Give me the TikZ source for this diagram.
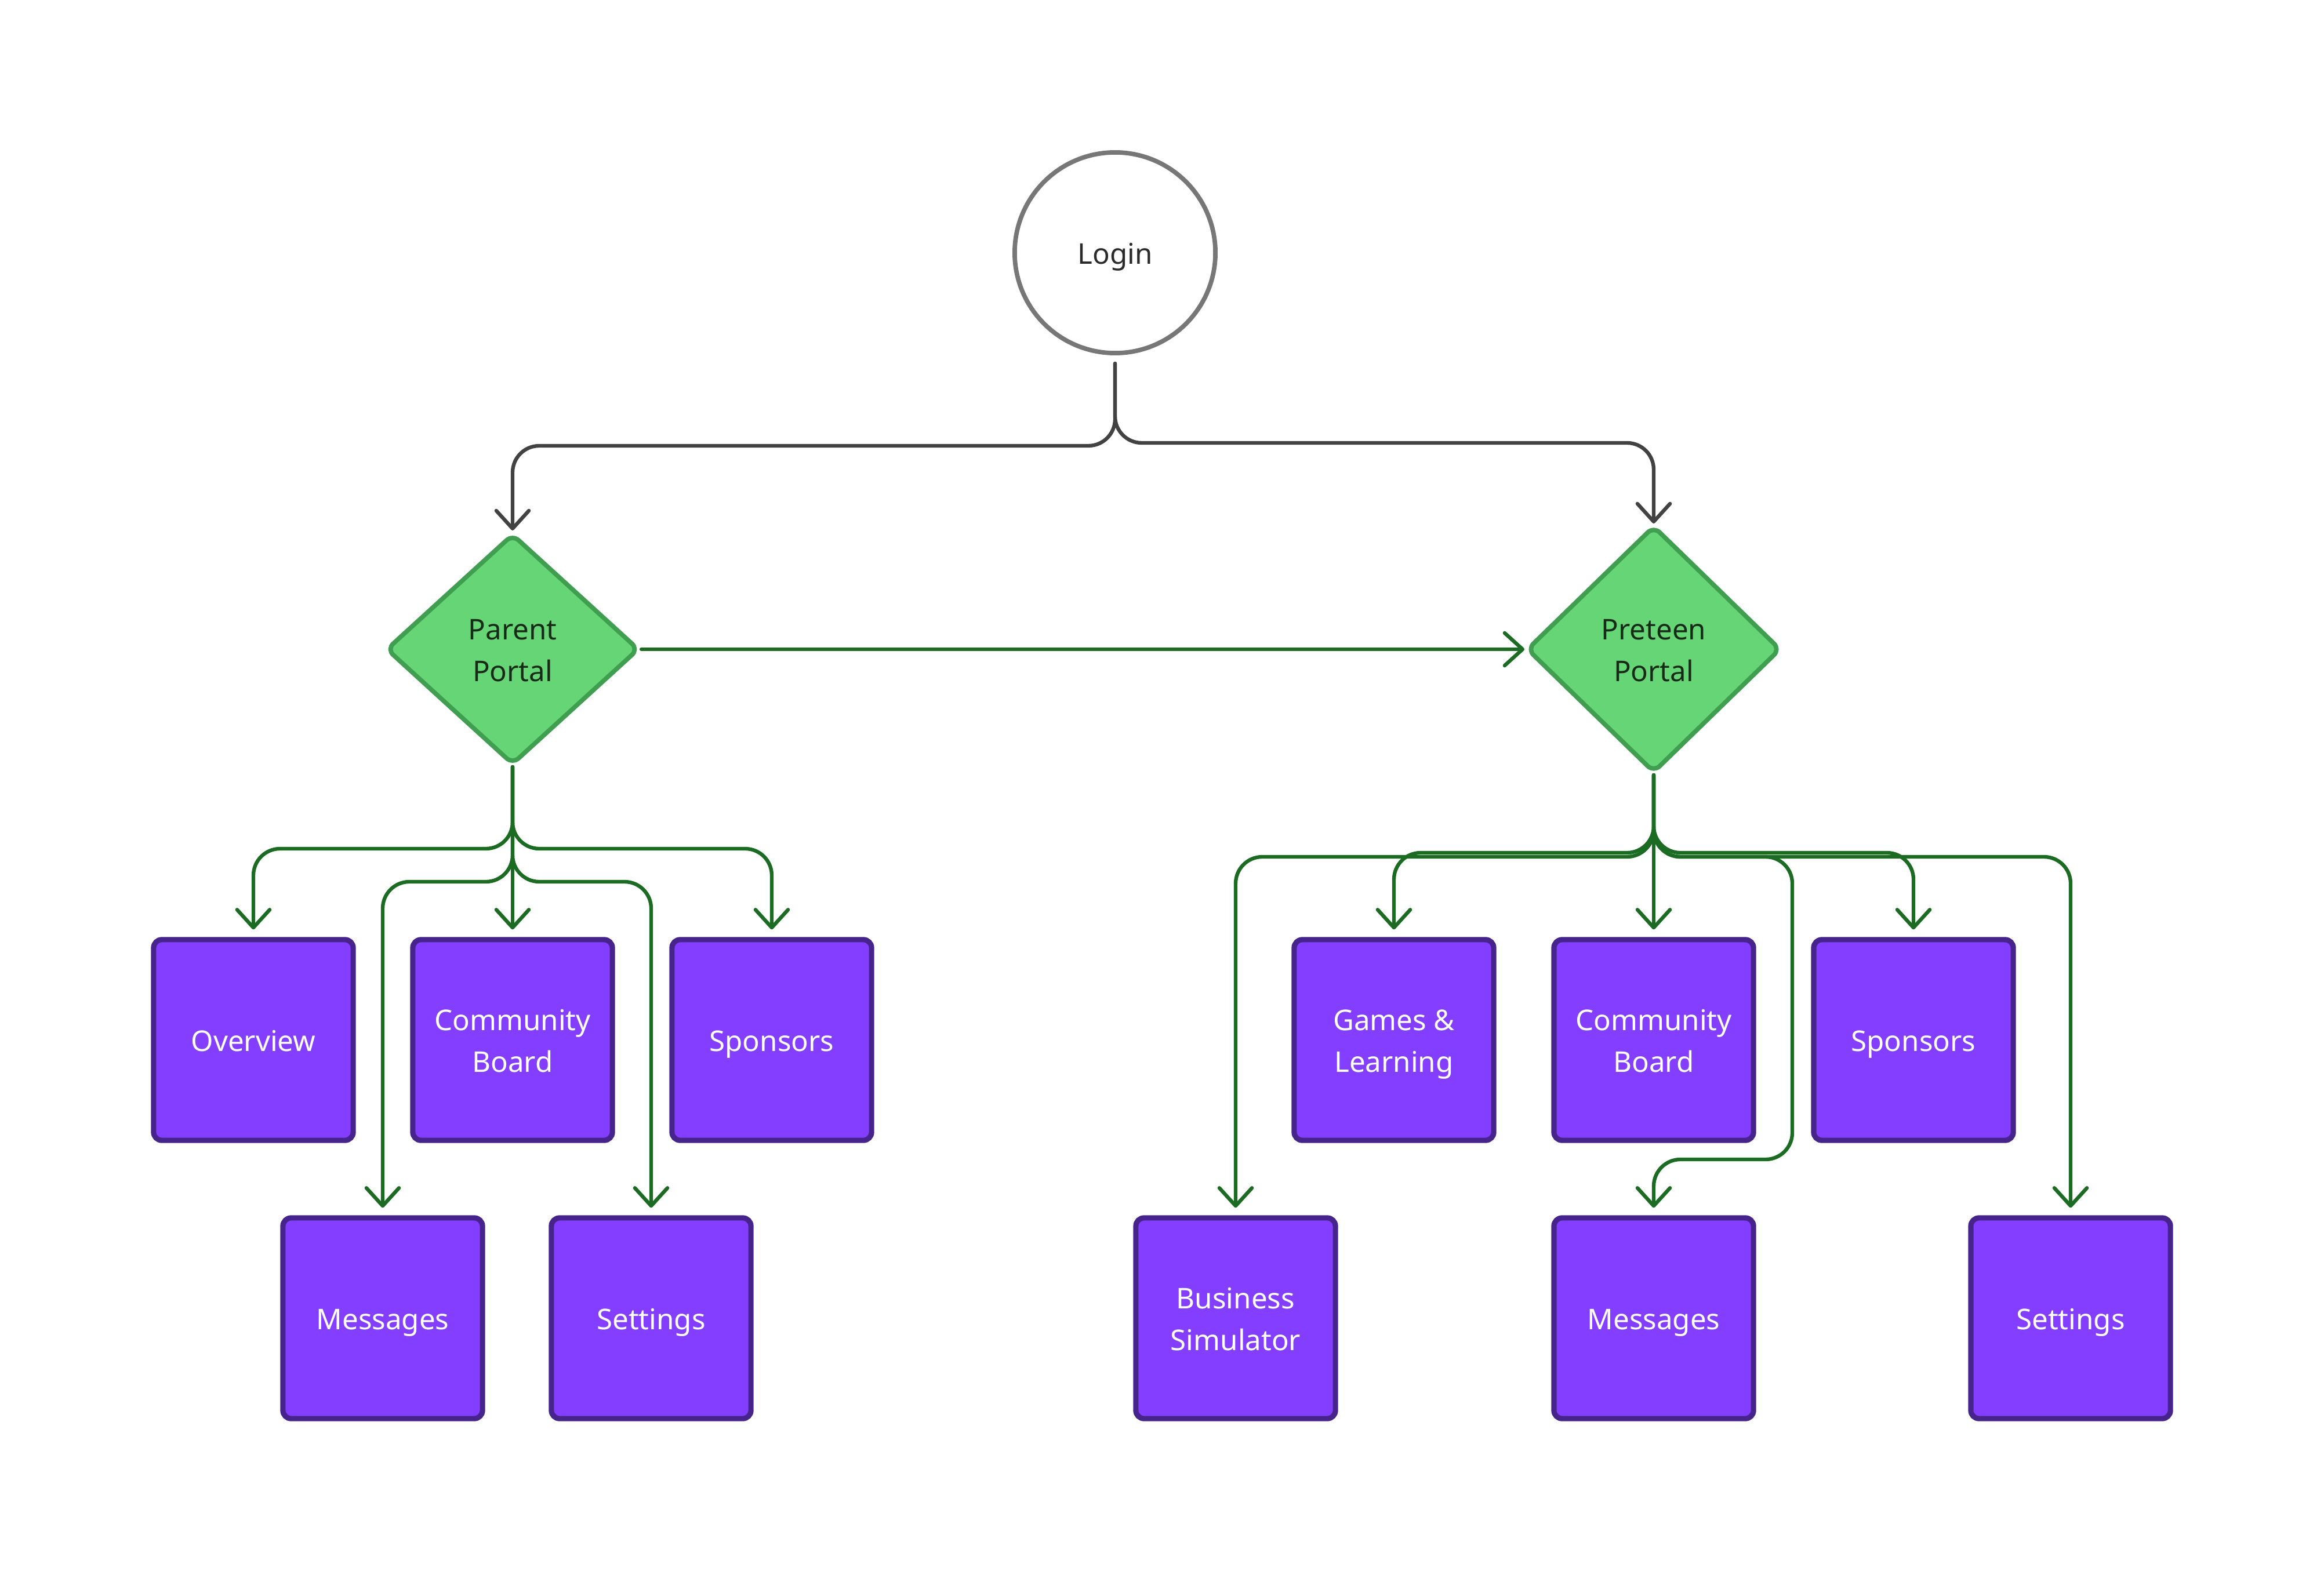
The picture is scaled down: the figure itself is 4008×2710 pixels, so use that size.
\documentclass[tikz,border=0pt]{standalone}
\usepackage{fontspec}
\setmainfont{Noto Sans}
\usetikzlibrary{shapes.geometric,arrows.meta}
\definecolor{boxfill}{HTML}{833EFF}
\definecolor{boxline}{HTML}{47238C}
\definecolor{dfill}{HTML}{66D575}
\definecolor{dline}{HTML}{3F9E4F}
\definecolor{gconn}{HTML}{1B6B23}
\definecolor{kconn}{HTML}{424242}
\definecolor{cline}{HTML}{777777}
\definecolor{dtext}{HTML}{172A17}
\definecolor{ktext}{HTML}{2B2B2B}
\newcommand\lstrut{\vrule width 0pt height 15.9pt depth 4.6pt\relax}
\tikzset{
  lbl/.style={font=\fontsize{14pt}{20.5pt}\selectfont, align=center},
  pagebox/.style={lbl, draw=boxline, fill=boxfill, text=white, line width=2.6pt,
    rounded corners=4pt, minimum width=3.44cm, minimum height=3.46cm, inner sep=0pt},
  portal/.style={lbl, diamond, draw=dline, fill=dfill, text=dtext, line width=2.2pt,
    rounded corners=4pt, inner sep=0pt},
  startnode/.style={lbl, circle, draw=cline, fill=white, text=ktext, line width=2.2pt,
    minimum size=3.46cm, inner sep=0pt},
  conn/.style={line width=1.8pt, rounded corners=0.46cm, line cap=round, line join=round,
    -{Straight Barb[length=8.8pt,width=16pt,line cap=round,line join=round]}},
  gc/.style={conn, draw=gconn},
  kc/.style={conn, draw=kconn},
}
\begin{document}
\begin{tikzpicture}[x=0.01cm, y=-0.01cm]
\useasboundingbox (0,0) rectangle (4008,2710);

% nodes
\node[startnode] (login) at (1923,436) {\lstrut Login};
\node[portal, minimum width=4.36cm, minimum height=3.98cm] (parent) at (884,1120) {\lstrut Parent\\\lstrut Portal};
\node[portal, minimum width=4.38cm, minimum height=4.26cm] (preteen) at (2852,1120) {\lstrut Preteen\\\lstrut Portal};

\node[pagebox] (pov) at (437,1794) {\lstrut Overview};
\node[pagebox] (pcb) at (884,1794) {\lstrut Community\\\lstrut Board};
\node[pagebox] (psp) at (1331,1794) {\lstrut Sponsors};
\node[pagebox] (pmsg) at (660,2274) {\lstrut Messages};
\node[pagebox] (pset) at (1123,2274) {\lstrut Settings};

\node[pagebox] (tgl) at (2404,1794) {\lstrut Games \&\\\lstrut Learning};
\node[pagebox] (tcb) at (2852,1794) {\lstrut Community\\\lstrut Board};
\node[pagebox] (tsp) at (3300,1794) {\lstrut Sponsors};
\node[pagebox] (tbs) at (2131,2274) {\lstrut Business\\\lstrut Simulator};
\node[pagebox] (tmsg) at (2852,2274) {\lstrut Messages};
\node[pagebox] (tset) at (3571,2274) {\lstrut Settings};

% helper coordinates
\coordinate (ls) at ([yshift=-0.14cm]login.south);
\coordinate (lbusL) at (1923,769);
\coordinate (lbusR) at (1923,764);
\coordinate (ps) at (parent.south);
\coordinate (pbus1) at (884,1464);
\coordinate (pbus2) at (884,1521);
\coordinate (ts) at (preteen.south);
\coordinate (tbus1) at (2852,1471);
\coordinate (tbus2) at (2852,1478);
\coordinate (tmsgturn) at (3091,2000);

% login connectors
\draw[kc, shorten >=0.02cm] (ls) -- (lbusL) -| (parent.north);
\draw[kc] (ls) -- (lbusR) -| (preteen.north);

% parent -> preteen
\draw[gc] (parent.east) -- (preteen.west);

% parent children
\draw[gc, shorten >=0.13cm] (ps) -- (pbus1) -| (pov.north);
\draw[gc, shorten >=0.13cm] (ps) -- (pbus1) -| (psp.north);
\draw[gc, shorten >=0.13cm] (ps) -- (pcb.north);
\draw[gc, shorten >=0.13cm] (ps) -- (pbus2) -| (pmsg.north);
\draw[gc, shorten >=0.13cm] (ps) -- (pbus2) -| (pset.north);

% preteen children
\draw[gc, shorten >=0.13cm] (ts) -- (tbus2) -| (tbs.north);
\draw[gc, shorten >=0.13cm] (ts) -- (tbus1) -| (tgl.north);
\draw[gc, shorten >=0.13cm] (ts) -- (tcb.north);
\draw[gc, shorten >=0.13cm] (ts) -- (tbus2) -| (tmsgturn) -| (tmsg.north);
\draw[gc, shorten >=0.13cm] (ts) -- (tbus1) -| (tsp.north);
\draw[gc, shorten >=0.13cm] (ts) -- (tbus2) -| (tset.north);
\end{tikzpicture}
\end{document}
